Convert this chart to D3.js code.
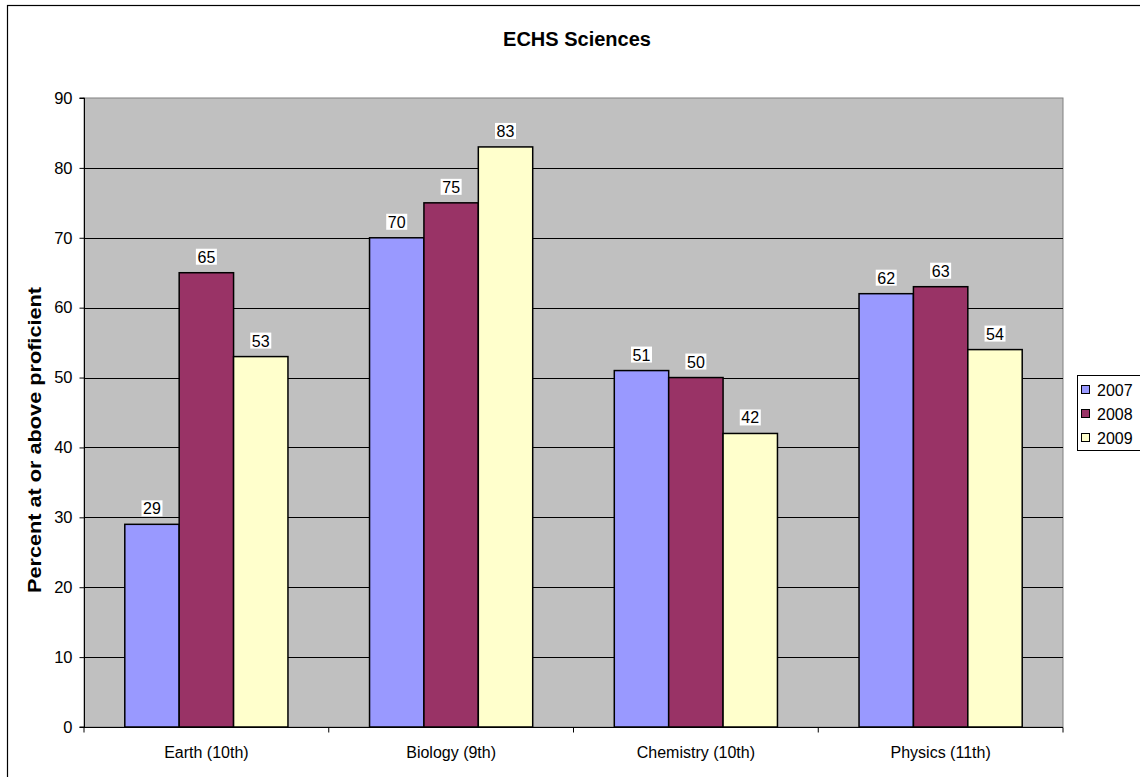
<!DOCTYPE html>
<html>
<head>
  <meta charset='utf-8'>
  <script src='https://d3js.org/d3.v7.min.js'></script>
  <style>
    body { margin: 0; background: white; }
    text { font-family: 'Liberation Sans', Arial, sans-serif; }
  </style>
</head>
<body>
<script type='text/javascript'>
  'use strict';
  // chart values
  var subjects = ['Earth (10th)', 'Biology (9th)', 'Chemistry (10th)', 'Physics (11th)'];
  var years = ['2007', '2008', '2009'];
  var pct2007 = [29, 70, 51, 62];
  var pct2008 = [65, 75, 50, 63];
  var pct2009 = [53, 83, 42, 54];
  var yTicks = [0, 10, 20, 30, 40, 50, 60, 70, 80, 90];
  var colors = ['#9999FF', '#993366', '#FFFFCC'];

  var series = [pct2007, pct2008, pct2009];
  var rows = [];
  subjects.forEach(function(s, i) {
    years.forEach(function(y, j) {
      rows.push({ subject: s, year: y, value: series[j][i], k: j });
    });
  });

  var width = 1140, height = 777;
  var plot = { left: 84, right: 1063, top: 98, bottom: 727 };
  var fontFam = "'Liberation Sans', Arial, sans-serif";

  var svg = d3.select('body').append('svg')
    .attr('width', width)
    .attr('height', height);

  // outer chart frame
  svg.append('rect')
    .attr('x', 7.5).attr('y', 5.5)
    .attr('width', 1140).attr('height', 800)
    .attr('fill', 'white').attr('stroke', 'black').attr('stroke-width', 1.2);

  var x = d3.scaleBand().domain(subjects).range([plot.left, plot.right]).paddingInner(0).paddingOuter(0);
  var x1 = d3.scaleBand().domain(years).range([0, x.bandwidth() * 2 / 3]);
  var y = d3.scaleLinear().domain([0, 90]).range([plot.bottom, plot.top]);

  // plot background
  svg.append('rect')
    .attr('x', plot.left).attr('y', plot.top)
    .attr('width', plot.right - plot.left).attr('height', plot.bottom - plot.top)
    .attr('fill', '#C0C0C0').attr('stroke', '#808080').attr('stroke-width', 1);

  // gridlines
  svg.append('g').selectAll('line')
    .data(yTicks.filter(function(d) { return d > 0 && d < 90; }))
    .enter().append('line')
    .attr('x1', plot.left).attr('x2', plot.right)
    .attr('y1', function(d) { return Math.round(y(d)) + 0.5; })
    .attr('y2', function(d) { return Math.round(y(d)) + 0.5; })
    .attr('stroke', 'black').attr('stroke-width', 1);

  // bars
  svg.append('g').selectAll('rect')
    .data(rows)
    .enter().append('rect')
    .attr('x', function(d) { return x(d.subject) + x.bandwidth() / 6 + x1(d.year); })
    .attr('y', function(d) { return y(d.value); })
    .attr('width', x1.bandwidth())
    .attr('height', function(d) { return y(0) - y(d.value); })
    .attr('fill', function(d) { return colors[d.k]; })
    .attr('stroke', 'black').attr('stroke-width', 1.5);

  // value labels
  var lab = svg.append('g').selectAll('g')
    .data(rows)
    .enter().append('g')
    .attr('transform', function(d) {
      return 'translate(' + (x(d.subject) + x.bandwidth() / 6 + x1(d.year) + x1.bandwidth() / 2) + ',' + (y(d.value) - 10) + ')';
    });
  lab.append('rect')
    .attr('x', -10.5).attr('y', -14).attr('width', 21).attr('height', 16)
    .attr('fill', 'white');
  lab.append('text')
    .attr('text-anchor', 'middle')
    .style('font-size', '16px')
    .text(function(d) { return d.value; });

  // y axis
  var yAxis = d3.axisLeft(y).tickValues(yTicks).tickSize(5).tickPadding(7);
  var gy = svg.append('g').attr('transform', 'translate(' + (plot.left + 0.5) + ',0)').call(yAxis);
  gy.selectAll('text').style('font-size', '16.5px').attr('fill', 'black').style('font-family', fontFam);
  gy.selectAll('line').attr('stroke', 'black');
  gy.select('.domain').attr('stroke', 'black').attr('d', 'M-5,' + plot.bottom + 'H0V' + plot.top + 'H-5');

  // x axis
  var xAxis = d3.axisBottom(x).tickSize(0).tickPadding(19);
  var gx = svg.append('g').attr('transform', 'translate(0,' + (plot.bottom + 0.5) + ')').call(xAxis);
  gx.selectAll('text').style('font-size', '16px').attr('fill', 'black').style('font-family', fontFam);
  gx.select('.domain').attr('stroke', 'black').attr('d', 'M' + plot.left + ',0H' + plot.right);
  gx.selectAll('.sep')
    .data(subjects.concat(['end']))
    .enter().append('line')
    .attr('class', 'sep')
    .attr('x1', function(d, i) { return plot.left + i * x.bandwidth(); })
    .attr('x2', function(d, i) { return plot.left + i * x.bandwidth(); })
    .attr('y1', 0).attr('y2', 5)
    .attr('stroke', 'black');

  // title
  svg.append('text')
    .attr('x', 577).attr('y', 46)
    .attr('text-anchor', 'middle')
    .style('font-size', '20px').style('font-weight', 'bold')
    .text('ECHS Sciences');

  // y axis title
  svg.append('text')
    .attr('transform', 'translate(41,440) rotate(-90)')
    .attr('text-anchor', 'middle')
    .attr('textLength', 306).attr('lengthAdjust', 'spacingAndGlyphs')
    .style('font-size', '19px').style('font-weight', 'bold')
    .text('Percent at or above proficient');

  // legend
  var lg = svg.append('g');
  lg.append('rect')
    .attr('x', 1077.5).attr('y', 375.5).attr('width', 80).attr('height', 75)
    .attr('fill', 'white').attr('stroke', 'black').attr('stroke-width', 1);
  var item = lg.selectAll('g').data(years).enter().append('g')
    .attr('transform', function(d, i) { return 'translate(1081,' + (390 + i * 24) + ')'; });
  item.append('rect')
    .attr('x', 0.5).attr('y', -4.5).attr('width', 8).attr('height', 8)
    .attr('fill', function(d, i) { return colors[i]; })
    .attr('stroke', 'black').attr('stroke-width', 1);
  item.append('text')
    .attr('x', 16).attr('y', 6)
    .style('font-size', '16px')
    .text(function(d) { return d; });
</script>
</body>
</html>
